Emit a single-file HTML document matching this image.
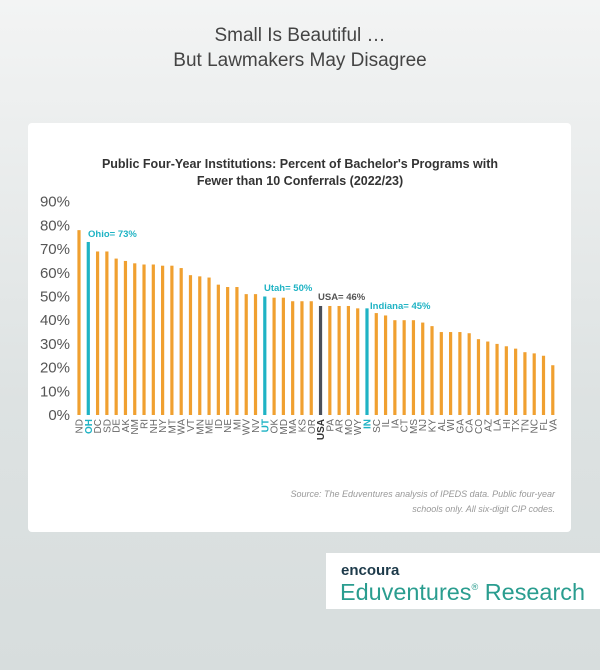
<!DOCTYPE html>
<html><head><meta charset="utf-8"><style>
body{margin:0;width:600px;height:670px;overflow:hidden;background:linear-gradient(#f3f4f4,#dde2e2 60%,#d7dddd);font-family:"Liberation Sans",sans-serif;position:relative}
.t{position:absolute;left:0;width:600px;text-align:center;color:#444;font-size:19px;line-height:24px}
</style></head><body>
<div class="t" style="top:24px">Small Is Beautiful …</div>
<div class="t" style="top:49px">But Lawmakers May Disagree</div>
<div style="position:absolute;left:28px;top:123px;width:543px;height:409px;background:#fff;border-radius:4px"></div>
<svg id="s" width="600" height="670" style="position:absolute;left:0;top:0" font-family="Liberation Sans, sans-serif">
<text x="300" y="168" text-anchor="middle" font-size="12.5" font-weight="bold" fill="#333">Public Four-Year Institutions: Percent of Bachelor's Programs with</text>
<text x="300" y="185" text-anchor="middle" font-size="12.5" font-weight="bold" fill="#333">Fewer than 10 Conferrals (2022/23)</text>
<text x="88" y="237" font-size="9.5" font-weight="bold" fill="#1fb3c4">Ohio= 73%</text>
<text x="264" y="291" font-size="9.5" font-weight="bold" fill="#1fb3c4">Utah= 50%</text>
<text x="318" y="300" font-size="9.5" font-weight="bold" fill="#555">USA= 46%</text>
<text x="370" y="309" font-size="9.5" font-weight="bold" fill="#1fb3c4">Indiana= 45%</text>
<text x="555" y="497" text-anchor="end" font-size="9" font-style="italic" fill="#999">Source: The Eduventures analysis of IPEDS data. Public four-year</text>
<text x="555" y="512" text-anchor="end" font-size="9" font-style="italic" fill="#999">schools only. All six-digit CIP codes.</text>
<rect x="326" y="553" width="274" height="56" fill="#fff"/>
<text x="341" y="575" font-size="15" font-weight="bold" fill="#1d3a4a">encoura</text>
<text x="340" y="600" font-size="23" fill="#2a9d8f" textLength="245" lengthAdjust="spacingAndGlyphs">Eduventures<tspan font-size="9" dy="-10">®</tspan><tspan dy="10"> Research</tspan></text>
</svg>
<script>
var d=[["ND",78],["OH",73],["DC",69],["SD",69],["DE",66],["AK",65],["NM",64],["RI",63.5],["NH",63.5],["NY",63],["MT",63],["WA",62],["VT",59],["MN",58.5],["ME",58],["ID",55],["NE",54],["MI",54],["WV",51],["NV",51],["UT",50],["OK",49.5],["MD",49.5],["MA",48],["KS",48],["OR",48],["USA",46],["PA",46],["AR",46],["MO",46],["WY",45],["IN",45],["SC",43],["IL",42],["IA",40],["CT",40],["MS",40],["NJ",39],["KY",37.5],["AL",35],["WI",35],["GA",35],["CA",34.5],["CO",32],["AZ",31],["LA",30],["HI",29],["TX",28],["TN",26.5],["NC",26],["FL",25],["VA",21]];
var s="",b=415,k=2.37;
for(var i=0;i<=9;i++){s+='<text x="70" y="'+(b-i*10*k+5)+'" text-anchor="end" font-size="15" fill="#555">'+(i*10)+'%</text>';}
d.forEach(function(e,i){var x=79+i*9.29,h=e[1]*k,c="#f0a030",tc="#666",w="normal";
if(e[0]=="OH"||e[0]=="UT"||e[0]=="IN"){c="#1fb3c4";tc="#1fb3c4";w="bold"}
if(e[0]=="USA"){c="#4a4f5a";tc="#333";w="bold"}
s+='<rect x="'+(x-1.6)+'" y="'+(b-h)+'" width="3.2" height="'+h+'" fill="'+c+'"/>';
s+='<text transform="translate('+(x+3.5)+',419) rotate(-90)" text-anchor="end" font-size="10" font-weight="'+w+'" fill="'+tc+'">'+e[0]+'</text>';});
document.getElementById("s").insertAdjacentHTML("beforeend",s);
</script>
</body></html>
